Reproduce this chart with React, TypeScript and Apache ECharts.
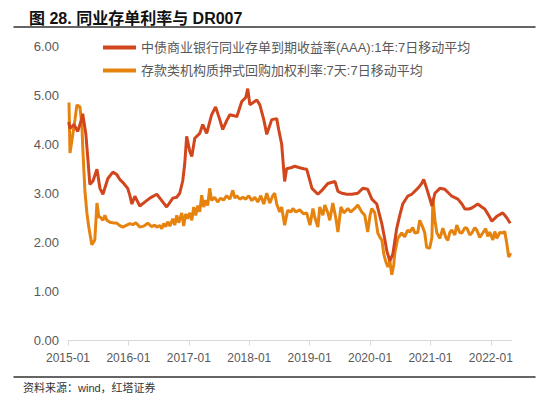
import React, { useEffect, useRef } from "react";
import * as echarts from "echarts";

const titleText = "图 28. 同业存单利率与 DR007";
const sourceText = "资料来源：wind，红塔证券";
const seriesNames = [
  "中债商业银行同业存单到期收益率(AAA):1年:7日移动平均",
  "存款类机构质押式回购加权利率:7天:7日移动平均",
];
const xTickYears = [2015, 2016, 2017, 2018, 2019, 2020, 2021, 2022];
const yTicks = [0, 1, 2, 3, 4, 5, 6];

const cdDates = [
  "2015-01-05", "2015-01-13", "2015-02-06", "2015-03-01", "2015-03-19", "2015-03-31", "2015-04-19", "2015-05-01", "2015-05-13", "2015-06-01",
  "2015-06-25", "2015-07-13", "2015-07-31", "2015-08-30", "2015-09-29", "2015-10-23", "2015-11-10", "2015-12-04", "2015-12-28",
  "2016-01-10", "2016-01-22", "2016-02-09", "2016-03-10", "2016-04-09", "2016-05-10", "2016-06-21", "2016-07-21", "2016-08-20", "2016-09-26",
  "2016-10-20", "2016-11-07", "2016-11-25", "2016-12-07", "2016-12-19",
  "2017-01-07", "2017-01-19", "2017-02-06", "2017-03-08", "2017-03-26", "2017-04-19", "2017-05-19", "2017-06-12", "2017-07-07", "2017-07-25",
  "2017-08-18", "2017-09-06", "2017-09-30", "2017-10-18", "2017-11-17", "2017-12-11", "2017-12-23",
  "2018-01-05", "2018-01-29", "2018-02-16", "2018-03-06", "2018-03-30", "2018-04-17", "2018-05-17", "2018-06-16", "2018-06-28", "2018-07-16",
  "2018-08-03", "2018-08-15", "2018-09-10", "2018-10-03", "2018-11-02", "2018-11-26", "2018-12-14",
  "2019-01-03", "2019-01-15", "2019-02-20", "2019-03-22", "2019-04-21", "2019-06-03", "2019-06-21", "2019-07-15", "2019-08-14", "2019-09-13",
  "2019-10-19", "2019-11-18", "2019-12-18",
  "2020-01-12", "2020-02-11", "2020-03-13", "2020-03-31", "2020-04-12", "2020-04-30", "2020-05-18", "2020-06-11", "2020-06-29", "2020-07-17",
  "2020-08-16", "2020-09-10", "2020-09-28", "2020-10-22", "2020-11-09", "2020-11-21", "2020-12-09", "2020-12-27",
  "2021-01-10", "2021-01-28", "2021-02-27", "2021-03-29", "2021-04-22", "2021-05-10", "2021-06-16", "2021-07-10", "2021-07-28", "2021-08-21",
  "2021-09-08", "2021-10-14", "2021-11-07", "2021-11-25", "2021-12-19",
  "2022-01-07", "2022-02-06", "2022-03-14", "2022-04-07", "2022-04-28",
];
const cdValues = [
  4.45, 4.32, 4.40, 4.26, 4.45, 4.62, 4.20, 3.70, 3.18, 3.25,
  3.49, 3.10, 2.98, 3.30, 3.43, 3.38, 3.28, 3.20, 3.10,
  2.95, 2.78, 2.94, 2.74, 2.82, 2.90, 2.98, 2.85, 2.72, 2.90,
  2.92, 3.00, 3.25, 3.59, 4.16,
  3.85, 3.75, 4.12, 4.22, 4.40, 4.22, 4.60, 4.76, 4.50, 4.30,
  4.48, 4.60, 4.58, 4.56, 4.87, 4.95, 5.13,
  4.80, 4.86, 4.90, 4.80, 4.50, 4.20, 4.50, 4.52, 4.30, 4.00,
  3.24, 3.50, 3.52, 3.55, 3.52, 3.50, 3.49,
  3.25, 3.10, 2.98, 3.08, 3.20, 3.24, 3.04, 3.00, 2.98, 2.98,
  3.00, 3.10, 3.08,
  2.88, 2.78, 2.37, 2.05, 1.82, 1.62, 1.76, 2.29, 2.55, 2.78,
  2.94, 2.98, 3.04, 3.12, 3.20, 3.28, 3.10, 2.90,
  2.74, 3.00, 3.10, 3.08, 3.00, 2.94, 2.88, 2.78, 2.68, 2.68,
  2.70, 2.78, 2.72, 2.68, 2.55,
  2.43, 2.53, 2.60, 2.50, 2.39,
];

const drDates = [
  "2015-01-07", "2015-01-13", "2015-01-31", "2015-02-12", "2015-02-24", "2015-03-14", "2015-03-26", "2015-03-31", "2015-04-13", "2015-04-25",
  "2015-05-07", "2015-05-25", "2015-06-12", "2015-06-25", "2015-07-07", "2015-07-13", "2015-07-31", "2015-08-12", "2015-08-24", "2015-09-11",
  "2015-09-29", "2015-10-23", "2015-11-10", "2015-11-28", "2015-12-22",
  "2016-01-10", "2016-01-28", "2016-02-15", "2016-03-10", "2016-04-03", "2016-04-27", "2016-05-21", "2016-06-08", "2016-06-21", "2016-07-09",
  "2016-07-21", "2016-08-02", "2016-08-14", "2016-08-26", "2016-09-08", "2016-09-26", "2016-10-08", "2016-10-20", "2016-11-01", "2016-11-19",
  "2016-12-01", "2016-12-13", "2016-12-25",
  "2017-01-07", "2017-01-19", "2017-01-31", "2017-02-12", "2017-02-24", "2017-03-08", "2017-03-20", "2017-04-01", "2017-04-13", "2017-04-25",
  "2017-05-07", "2017-05-19", "2017-06-06", "2017-06-24", "2017-07-12", "2017-07-30", "2017-08-18", "2017-09-06", "2017-09-24", "2017-10-06",
  "2017-10-18", "2017-11-05", "2017-11-23", "2017-12-11", "2017-12-29",
  "2018-01-17", "2018-02-04", "2018-02-22", "2018-03-12", "2018-03-30", "2018-04-17", "2018-05-05", "2018-05-23", "2018-06-04", "2018-06-16",
  "2018-07-04", "2018-07-16", "2018-08-03", "2018-08-21", "2018-09-10", "2018-09-22", "2018-10-10", "2018-11-02", "2018-11-26", "2018-12-14",
  "2019-01-03", "2019-01-21", "2019-02-02", "2019-02-20", "2019-03-03", "2019-03-22", "2019-04-03", "2019-04-21", "2019-05-03", "2019-05-21",
  "2019-06-08", "2019-06-21", "2019-07-09", "2019-07-27", "2019-08-20", "2019-09-07", "2019-10-01", "2019-10-19", "2019-11-12", "2019-11-30",
  "2019-12-18",
  "2020-01-01", "2020-01-12", "2020-01-30", "2020-02-17", "2020-03-01", "2020-03-13", "2020-03-25", "2020-04-06", "2020-04-18", "2020-04-30",
  "2020-05-12", "2020-05-24", "2020-05-30", "2020-06-17", "2020-07-11", "2020-07-29", "2020-08-16", "2020-08-28", "2020-09-16", "2020-09-28",
  "2020-10-16", "2020-10-28", "2020-11-15", "2020-11-27", "2020-12-09", "2020-12-27",
  "2021-01-10", "2021-01-16", "2021-01-28", "2021-02-09", "2021-02-27", "2021-03-17", "2021-04-04", "2021-04-16", "2021-04-28", "2021-05-10",
  "2021-05-28", "2021-06-09", "2021-06-27", "2021-07-10", "2021-07-28", "2021-08-09", "2021-08-27", "2021-09-08", "2021-09-26", "2021-10-08",
  "2021-10-26", "2021-11-13", "2021-12-01", "2021-12-13", "2021-12-25",
  "2022-01-13", "2022-01-25", "2022-02-06", "2022-02-24", "2022-03-14", "2022-03-26", "2022-04-07", "2022-04-19", "2022-05-01",
];
const drValues = [
  4.85, 3.82, 4.22, 4.50, 4.80, 4.76, 4.40, 3.94, 3.06, 2.60,
  2.30, 1.95, 2.05, 2.80, 2.50, 2.52, 2.45, 2.55, 2.45, 2.41,
  2.40, 2.39, 2.34, 2.31, 2.35,
  2.38, 2.36, 2.40, 2.31, 2.33, 2.39, 2.32, 2.35, 2.31, 2.34,
  2.28, 2.38, 2.32, 2.42, 2.33, 2.48, 2.35, 2.55, 2.40, 2.60,
  2.33, 2.58, 2.48,
  2.60, 2.45, 2.72, 2.55, 2.75, 2.62, 2.96, 2.72, 2.86, 2.75,
  3.10, 2.85, 2.92, 2.82, 2.90, 2.86, 2.95, 2.88, 3.06, 2.90,
  2.95, 2.88, 2.92, 2.88, 2.95,
  2.85, 2.92, 2.82, 2.95, 2.78, 3.00, 2.80, 2.95, 3.00, 2.78,
  2.62, 2.72, 2.35, 2.65, 2.62, 2.69, 2.62, 2.66, 2.58, 2.60,
  2.35, 2.69, 2.50, 2.31, 2.72, 2.55, 2.76, 2.60, 2.45, 2.80,
  2.50, 2.21, 2.72, 2.60, 2.69, 2.62, 2.69, 2.76, 2.62, 2.55,
  2.21,
  2.55, 2.69, 2.60, 2.19, 2.10, 2.04, 1.75, 1.60, 1.50, 1.62,
  1.34, 1.55, 1.78, 2.08, 2.19, 2.11, 2.25, 2.21, 2.30, 2.19,
  2.20, 2.45, 2.31, 2.20, 1.90, 1.88,
  2.10, 2.90, 2.45, 2.19, 2.08, 2.29, 2.10, 2.04, 2.20, 2.25,
  2.15, 2.35, 2.20, 2.19, 2.30, 2.29, 2.15, 2.19, 2.30, 2.25,
  2.10, 2.19, 2.28, 2.12, 2.21,
  2.05, 2.22, 2.08, 2.20, 2.19, 2.22, 1.98, 1.70, 1.78,
];

function toYear(s: string): number {
  const [y, m, d] = s.split("-").map(Number);
  const start = Date.UTC(y, 0, 1);
  const end = Date.UTC(y + 1, 0, 1);
  return y + (Date.UTC(y, m - 1, d) - start) / (end - start);
}

const FONT = "'Liberation Sans', 'Noto Sans CJK SC', sans-serif";

const frameAxis = (position: string) => ({
  type: "value",
  gridIndex: 1,
  position,
  min: 0,
  max: 1,
  axisLine: { show: true, onZero: false, lineStyle: { color: "#333333", width: 1.5 } },
  axisTick: { show: false },
  axisLabel: { show: false },
  splitLine: { show: false },
});

export default function App() {
  const ref = useRef<HTMLDivElement>(null);
  useEffect(() => {
    if (!ref.current) return;
    const chart = echarts.init(ref.current, undefined, { renderer: "svg" });
    const cdData = cdDates.map((d, i) => [toYear(d), cdValues[i]]);
    const drData = drDates.map((d, i) => [toYear(d), drValues[i]]);
    chart.setOption({
      animation: false,
      backgroundColor: "#ffffff",
      textStyle: { fontFamily: FONT },
      title: {
        text: titleText,
        left: 24,
        top: 5,
        textStyle: { fontSize: 16, fontWeight: "bold", color: "#111111", fontFamily: FONT },
      },
      legend: {
        orient: "vertical",
        left: 98,
        top: 35,
        icon: "rect",
        itemWidth: 33,
        itemHeight: 4,
        itemGap: 8,
        data: seriesNames,
        textStyle: { fontSize: 13, lineHeight: 15, color: "#595959", fontFamily: FONT },
      },
      grid: [
        { left: 68, right: 38, top: 46, bottom: 55.5, containLabel: false },
        { left: 14, right: 15, top: 27, bottom: 19, containLabel: false },
      ],
      xAxis: [
        {
          type: "value",
          gridIndex: 0,
          min: 2015,
          max: 2022.35,
          axisLine: { show: true, lineStyle: { color: "#d9d9d9", width: 1 } },
          axisTick: { show: true, length: 5, customValues: xTickYears, lineStyle: { color: "#d9d9d9" } },
          axisLabel: {
            customValues: xTickYears,
            formatter: (v: number) => `${Math.round(v)}-01`,
            color: "#595959",
            fontSize: 12,
            margin: 11,
            fontFamily: FONT,
          },
          splitLine: { show: false },
        },
        frameAxis("top"),
        frameAxis("bottom"),
      ],
      yAxis: [
        {
          type: "value",
          gridIndex: 0,
          min: 0,
          max: 6,
          interval: 1,
          axisLine: { show: false },
          axisTick: { show: false },
          splitLine: { show: false },
          axisLabel: {
            customValues: yTicks,
            formatter: (v: number) => v.toFixed(2),
            color: "#595959",
            fontSize: 13,
            margin: 9,
            fontFamily: FONT,
          },
        },
        {
          type: "value",
          gridIndex: 1,
          min: 0,
          max: 1,
          show: false,
        },
      ],
      series: [
        {
          name: seriesNames[0],
          type: "line",
          data: cdData,
          symbol: "none",
          lineStyle: { color: "#D2461D", width: 3 },
          itemStyle: { color: "#D2461D" },
          z: 3,
        },
        {
          name: seriesNames[1],
          type: "line",
          data: drData,
          symbol: "none",
          lineStyle: { color: "#E6830F", width: 3 },
          itemStyle: { color: "#E6830F" },
          z: 2,
        },
        {
          name: "frame",
          type: "line",
          xAxisIndex: 1,
          yAxisIndex: 1,
          data: [],
          symbol: "none",
          silent: true,
        },
        {
          name: "frame2",
          type: "line",
          xAxisIndex: 2,
          yAxisIndex: 1,
          data: [],
          symbol: "none",
          silent: true,
        },
      ],
      graphic: {
        elements: [
          {
            type: "text",
            z: 100,
            x: 23,
            y: 382,
            style: { text: sourceText, fontSize: 11, fill: "#333333", fontFamily: FONT },
          },
        ],
      },
    });
    return () => chart.dispose();
  }, []);
  return <div ref={ref} style={{ width: 550, height: 396, position: "absolute", left: 0, top: 0 }} />;
}
